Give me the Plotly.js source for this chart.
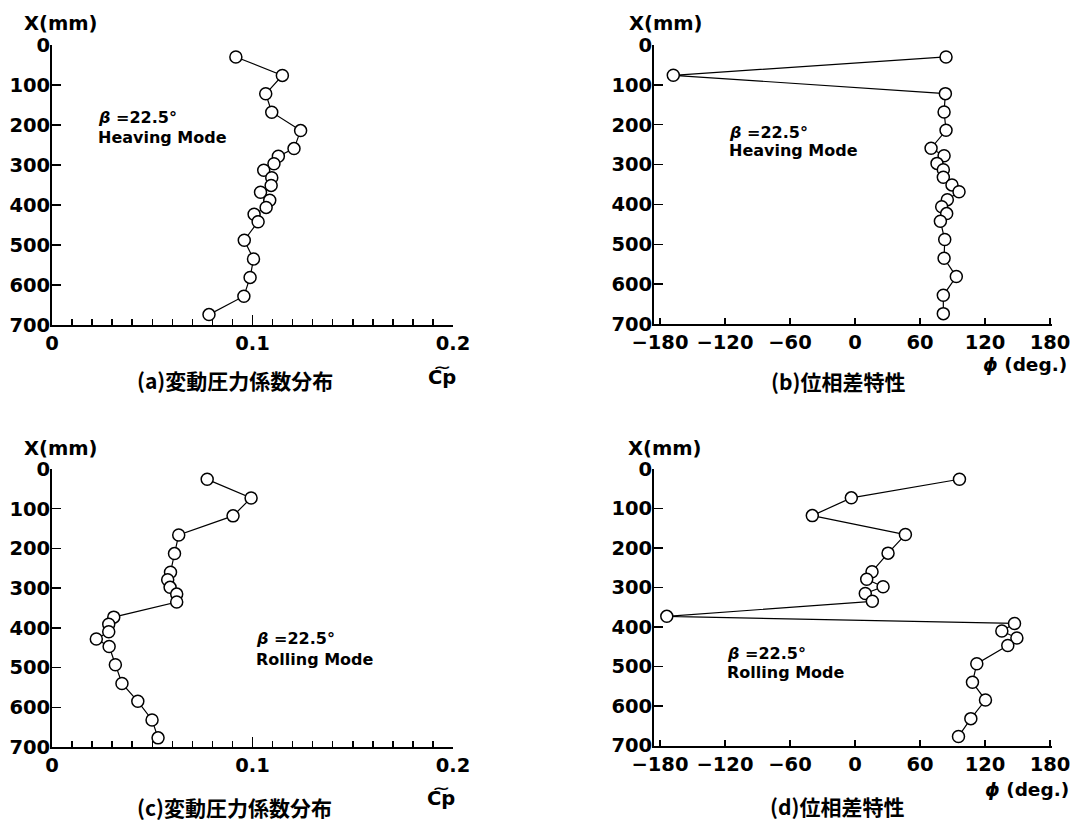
<!DOCTYPE html>
<html>
<head>
<meta charset="utf-8">
<script src="https://cdn.plot.ly/plotly-3.0.1.min.js"></script>
<style>html,body{margin:0;padding:0;background:#fff;}#chart{width:1074px;height:827px;}</style>
</head>
<body>
<div id="chart"></div>
<script>
// ---- data ----
const heavingX = [30, 76, 122, 168, 214, 259, 278, 297, 313, 332, 351, 368, 388, 406, 423, 442, 488, 535, 581, 628, 674];
const heavingCp = [0.0917, 0.1149, 0.1066, 0.1096, 0.1240, 0.1207, 0.1129, 0.1107, 0.1056, 0.1096, 0.1093, 0.1040, 0.1086, 0.1068, 0.1008, 0.1028, 0.0959, 0.1005, 0.0988, 0.0957, 0.0783];
const heavingPhi = [84, -167.7, 83.4, 82.2, 84, 70.2, 82.2, 75.7, 81.5, 81.5, 89.5, 96, 85.2, 80, 84.6, 78.8, 82.8, 82.2, 93.5, 81.5, 81.5];

const rollingX = [26, 73, 118, 166, 213, 260, 279, 298, 315, 335, 373, 391, 410, 428, 447, 493, 540, 585, 632, 677];
const rollingCp = [0.0774, 0.0993, 0.0903, 0.0632, 0.0611, 0.0591, 0.0577, 0.0589, 0.0622, 0.0622, 0.0308, 0.0283, 0.0283, 0.0221, 0.0285, 0.0316, 0.0349, 0.0428, 0.0499, 0.0529];
const rollingPhi = [96.4, -3.4, -39.4, 46.5, 30.5, 15.7, 10.8, 25.9, 9.5, 16, -173.7, 147.2, 135.5, 149.4, 141, 112.4, 108.4, 120.4, 106.9, 95.5];

const captions = ['(a)変動圧力係数分布', '(b)位相差特性', '(c)変動圧力係数分布', '(d)位相差特性'];
const modeLabels = ['Heaving Mode', 'Rolling Mode'];
const betaLabel = '<i>β</i> =22.5°';
const yLabel = 'X(mm)';
const cpLabel = 'C\u0360p';
const phiLabel = '<i>ϕ</i> (deg.)';

// ---- layout helpers ----
const W = 1074, H = 827;
const px = v => v / W;
const py = v => 1 - v / H;

const numFont = {family: 'DejaVu Sans', size: 19.5, weight: 'bold', color: '#000'};
const lblFont = {family: 'DejaVu Sans', size: 18.5, weight: 'bold', color: '#000'};
const txtFont = {family: 'DejaVu Sans', size: 16, weight: 'bold', color: '#000'};
const cjkFont = {family: 'Noto Sans CJK JP', size: 21, weight: 'bold', color: '#000'};

const lineStyle = {color: '#000', width: 1.2};
const markerStyle = {symbol: 'circle', size: 12, color: '#fff', line: {color: '#000', width: 1.5}};

function trace(x, y, xa, ya) {
  return {x: x, y: y, xaxis: xa, yaxis: ya, type: 'scatter', mode: 'lines+markers',
          line: lineStyle, marker: markerStyle, hoverinfo: 'skip', showlegend: false, cliponaxis: false};
}

const baseAxis = {showgrid: false, zeroline: false, showline: true, linecolor: '#000', linewidth: 2,
                  ticks: 'inside', tickcolor: '#000', tickwidth: 1.5, tickfont: numFont, fixedrange: true};

function yAxis(top, bottom, anchor) {
  return Object.assign({}, baseAxis, {domain: [py(bottom), py(top)], range: [700, 0], autorange: false,
          tick0: 0, dtick: 100, ticklen: 9, anchor: anchor, ticklabelstandoff: -4});
}
function cpAxis(left, right, anchor) {
  return Object.assign({}, baseAxis, {domain: [px(left), px(right)], range: [0, 0.2], autorange: false,
          tick0: 0, dtick: 0.1, ticklen: 10, anchor: anchor,
          minor: {dtick: 0.01, ticks: 'inside', ticklen: 6, tickwidth: 1.5, tickcolor: '#000', showgrid: false}});
}
function phiAxis(left, right, lo, hi, anchor) {
  return Object.assign({}, baseAxis, {domain: [px(left), px(right)], range: [lo, hi], autorange: false,
          tick0: 0, dtick: 60, ticklen: 6, anchor: anchor});
}

const data = [
  trace(heavingCp, heavingX, 'x', 'y'),
  trace(heavingPhi, heavingX, 'x2', 'y2'),
  trace(rollingCp, rollingX, 'x3', 'y3'),
  trace(rollingPhi, rollingX, 'x4', 'y4')
];

function ann(text, x, y, font, xanchor, yanchor) {
  return {text: text, xref: 'paper', yref: 'paper', x: px(x), y: py(y), showarrow: false,
          xanchor: xanchor || 'left', yanchor: yanchor || 'middle', font: font};
}

const annotations = [
  ann(yLabel, 22, 24, numFont), ann(yLabel, 627, 24, numFont),
  ann(yLabel, 22, 448, numFont), ann(yLabel, 626, 449, numFont),
  ann(betaLabel, 96, 118, txtFont), ann(modeLabels[0], 96, 137, txtFont),
  ann(betaLabel, 727, 132, txtFont), ann(modeLabels[0], 727, 150, txtFont),
  ann(betaLabel, 254, 638, txtFont), ann(modeLabels[1], 254, 659, txtFont),
  ann(betaLabel, 725, 653, txtFont), ann(modeLabels[1], 725, 672, txtFont),
  ann(cpLabel, 442, 377, numFont, 'center'),
  ann(cpLabel, 441, 798, numFont, 'center'),
  ann(phiLabel, 1025, 364, lblFont, 'center'), ann(phiLabel, 1027, 789, lblFont, 'center'),
  ann(captions[0], 235, 380, cjkFont, 'center'), ann(captions[1], 838, 381, cjkFont, 'center'),
  ann(captions[2], 234, 807, cjkFont, 'center'), ann(captions[3], 837, 806, cjkFont, 'center')
];

const layout = {
  width: W, height: H, margin: {l: 0, r: 0, t: 0, b: 0},
  paper_bgcolor: '#fff', plot_bgcolor: 'rgba(0,0,0,0)', showlegend: false,
  xaxis: cpAxis(52, 453, 'y'), yaxis: yAxis(45, 325, 'x'),
  xaxis2: phiAxis(654, 1052, -185.5, 181.8, 'y2'), yaxis2: yAxis(45, 324, 'x2'),
  xaxis3: cpAxis(52, 453, 'y3'), yaxis3: yAxis(469, 747, 'x3'),
  xaxis4: phiAxis(654, 1052, -185.5, 181.8, 'y4'), yaxis4: yAxis(469, 745.5, 'x4'),
  annotations: annotations
};

Plotly.newPlot('chart', data, layout, {staticPlot: true, displayModeBar: false});
</script>
</body>
</html>
